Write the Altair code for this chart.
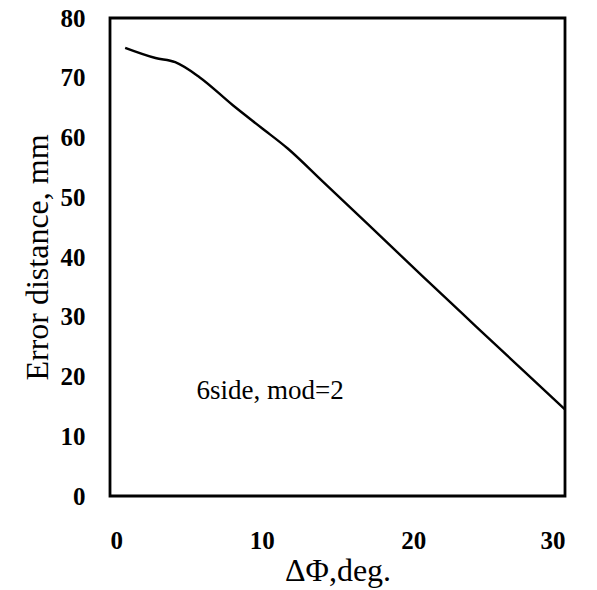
import altair as alt
import pandas as pd

dphi = [1.0, 3.0, 4.3, 5.9, 8.1, 10.0, 11.7, 14.0, 17.0, 20.6, 24.0, 27.2, 30.0]
err = [75.0, 73.3, 72.6, 70.1, 65.4, 61.6, 58.2, 52.7, 45.5, 36.8, 28.7, 21.1, 14.5]
label_text = ["6side, mod=2"]
label_x = [5.7]
label_y = [17.6]

df = pd.DataFrame({"x": dphi, "y": err})
lab = pd.DataFrame({"x": label_x, "y": label_y, "t": label_text})

FONT = "Liberation Serif"

xs = alt.Scale(domain=[0, 30], nice=False, zero=False)
ys = alt.Scale(domain=[0, 80], nice=False)

line = alt.Chart(df).mark_line(color="black", strokeWidth=2.4, interpolate="monotone").encode(
    x=alt.X("x:Q", scale=xs, title="ΔΦ,deg.",
            axis=alt.Axis(values=[0, 10, 20, 30], ticks=False, grid=False, domain=False,
                          labelFlush=True,
                          labelFont=FONT, labelFontSize=25, labelFontWeight="bold",
                          labelColor="black", labelPadding=32,
                          titleFont=FONT, titleFontSize=32, titleFontWeight="normal",
                          titleColor="black", titlePadding=2)),
    y=alt.Y("y:Q", scale=ys, title="Error distance, mm",
            axis=alt.Axis(values=[0, 10, 20, 30, 40, 50, 60, 70, 80], ticks=False, grid=False,
                          domain=False, labelFlush=False,
                          labelFont=FONT, labelFontSize=25, labelFontWeight="bold",
                          labelColor="black", labelPadding=25,
                          titleFont=FONT, titleFontSize=32, titleFontWeight="normal",
                          titleColor="black", titlePadding=6)),
)

txt = alt.Chart(lab).mark_text(align="left", baseline="middle", font=FONT, fontSize=27,
                               color="black").encode(
    x=alt.X("x:Q", scale=xs), y=alt.Y("y:Q", scale=ys), text="t:N")

chart = (line + txt).properties(
    width=455, height=478,
    autosize=alt.AutoSizeParams(type="none"),
    padding={"left": 110, "top": 18, "right": 32, "bottom": 94},
).configure(background="white").configure_view(stroke="black", strokeWidth=2.8)

chart.save("out.html", embed_options={"renderer": "svg", "actions": False})
